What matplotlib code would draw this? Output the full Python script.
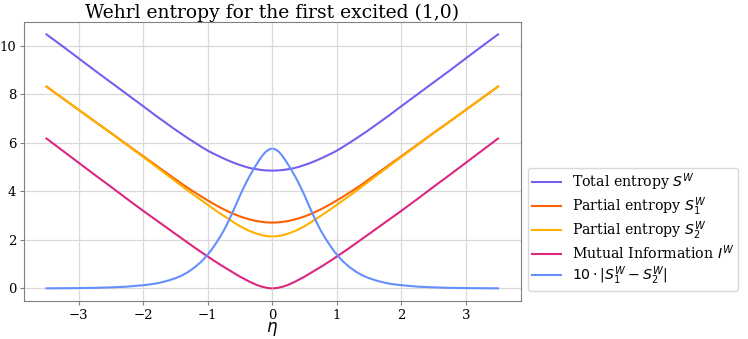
"""
Wehrl entropy curves for the first excited (1,0) state versus eta,
with total / partial / mutual entropies and the scaled partial difference.
"""
import numpy as np
import matplotlib
matplotlib.use("Agg")
import matplotlib.pyplot as plt

plt.rcParams["font.family"] = "serif"
plt.rcParams["font.serif"] = ["DejaVu Serif"]

# The picture is mirror symmetric in eta, so values are read off the
# right half (eta > 0) and mirrored; *_0 is the value at eta = 0
# (nan where the reference curve has a small gap at eta = 0).
eta_pos = [0.02, 0.05, 0.1, 0.15, 0.2, 0.25, 0.3, 0.35, 0.4, 0.45, 0.5,
           0.55, 0.6, 0.65, 0.7, 0.75, 0.8, 0.85, 0.9, 0.95, 1.0,
           1.1, 1.2, 1.3, 1.4, 1.5, 1.6, 1.7, 1.8, 1.9, 2.0,
           2.25, 2.5, 2.75, 3.0, 3.25, 3.5]

total_S_0 = 4.85
total_S_pos = [4.85, 4.852, 4.86, 4.87, 4.887, 4.91, 4.93, 4.96, 4.995, 5.035, 5.08,
               5.125, 5.175, 5.23, 5.285, 5.345, 5.405, 5.47, 5.535, 5.60, 5.67,
               5.83, 6.00, 6.17, 6.35, 6.53, 6.72, 6.91, 7.10, 7.30, 7.50,
               7.99, 8.48, 8.97, 9.47, 9.97, 10.46]

partial_S1_0 = 2.71
partial_S1_pos = [2.71, 2.713, 2.72, 2.735, 2.753, 2.777, 2.805, 2.838, 2.876, 2.918, 2.963,
                  3.013, 3.067, 3.125, 3.187, 3.252, 3.32, 3.39, 3.465, 3.54, 3.62,
                  3.78, 3.95, 4.12, 4.30, 4.49, 4.68, 4.87, 5.06, 5.25, 5.44,
                  5.92, 6.40, 6.87, 7.35, 7.83, 8.31]

partial_S2_0 = np.nan
partial_S2_pos = [2.14, 2.14, 2.16, 2.18, 2.22, 2.26, 2.31, 2.36, 2.42, 2.49, 2.56,
                  2.64, 2.72, 2.81, 2.90, 2.98, 3.07, 3.16, 3.25, 3.35, 3.44,
                  3.63, 3.82, 4.01, 4.21, 4.41, 4.61, 4.81, 5.01, 5.21, 5.41,
                  5.90, 6.39, 6.87, 7.35, 7.83, 8.31]

mutual_I_0 = np.nan
mutual_I_pos = [0.0, 0.007, 0.03, 0.06, 0.10, 0.15, 0.21, 0.27, 0.34, 0.41, 0.48,
                0.56, 0.64, 0.72, 0.80, 0.88, 0.96, 1.05, 1.13, 1.22, 1.31,
                1.49, 1.67, 1.86, 2.05, 2.24, 2.43, 2.62, 2.81, 3.00, 3.19,
                3.68, 4.18, 4.67, 5.17, 5.67, 6.17]

diff_10_0 = np.nan
diff_10_pos = [5.75, 5.72, 5.63, 5.48, 5.29, 5.08, 4.86, 4.63, 4.38, 4.11, 3.83,
               3.52, 3.22, 2.93, 2.65, 2.39, 2.16, 1.95, 1.75, 1.56, 1.39,
               1.10, 0.87, 0.68, 0.53, 0.42, 0.33, 0.26, 0.20, 0.16, 0.13,
               0.07, 0.04, 0.02, 0.01, 0.005, 0.0]

labels = [r"Total entropy $S^W$",
          r"Partial entropy $S_1^W$",
          r"Partial entropy $S_2^W$",
          r"Mutual Information $I^W$",
          r"$10\cdot|S_1^W - S_2^W|$"]
colors = ["#785EF0", "#FE6100", "#FFB000", "#DC267F", "#648FFF"]


def mirror(pos, center):
    # full curve from the right half and the centre value
    return list(reversed(pos)) + [center] + list(pos)


def main():
    eta = [-e for e in reversed(eta_pos)] + [0.0] + eta_pos
    series = [mirror(total_S_pos, total_S_0),
              mirror(partial_S1_pos, partial_S1_0),
              mirror(partial_S2_pos, partial_S2_0),
              mirror(mutual_I_pos, mutual_I_0),
              mirror(diff_10_pos, diff_10_0)]

    fig = plt.figure(figsize=(7.48, 3.39), dpi=100)
    ax = fig.add_axes([0.032, 0.112, 0.664, 0.824])

    for ys, lab, col in zip(series, labels, colors):
        ax.plot(eta, ys, color=col, lw=1.5, label=lab)

    ax.set_title("Wehrl entropy for the first excited (1,0)", fontsize=13.5, pad=3)
    ax.set_xlabel(r"$\eta$", fontsize=12, labelpad=-1)
    ax.set_xticks([-3, -2, -1, 0, 1, 2, 3])
    ax.set_yticks([0, 2, 4, 6, 8, 10])
    ax.tick_params(labelsize=9.5, length=3, pad=2.5, color="0.5")
    ax.grid(True, color="#d9d9d9", lw=0.9)
    for sp in ax.spines.values():
        sp.set_color("0.5")

    fig.legend(loc="lower left", bbox_to_anchor=(0.706, 0.142),
               borderaxespad=0, fontsize=10.2, framealpha=1,
               labelspacing=0.12, borderpad=0.3,
               edgecolor="#d9d9d9")

    fig.savefig("out.png", dpi=100)
    plt.close(fig)


if __name__ == "__main__":
    main()
